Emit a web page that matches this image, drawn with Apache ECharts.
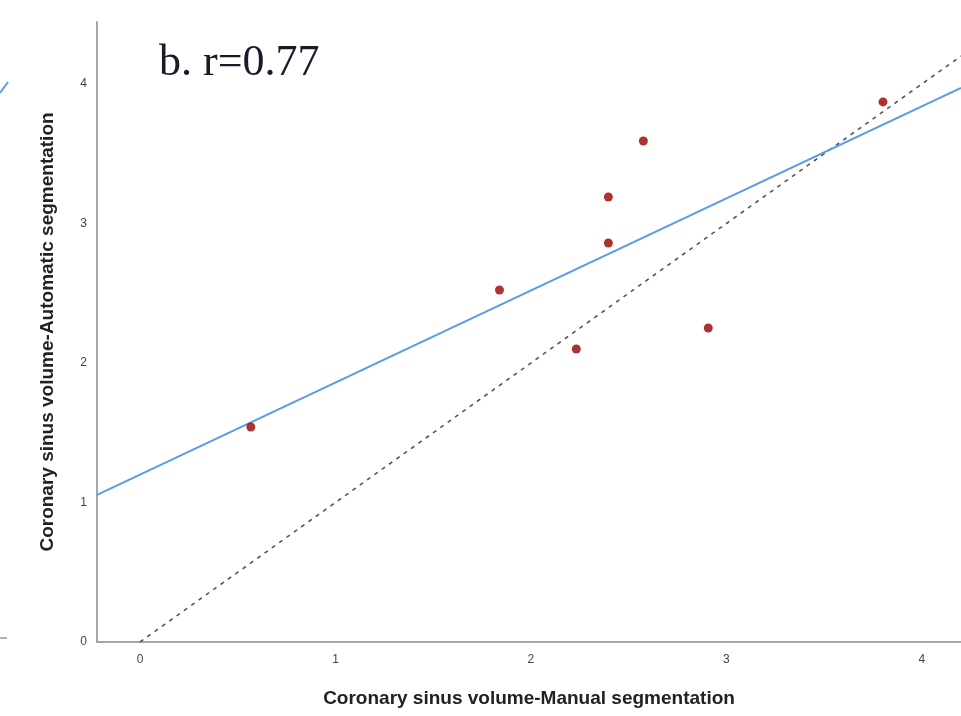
<!DOCTYPE html>
<html>
<head>
<meta charset="utf-8">
<script src="https://cdn.jsdelivr.net/npm/echarts@6/dist/echarts.min.js"></script>
<style>html,body{margin:0;padding:0;background:#fff;}#c{width:961px;height:716px;}</style>
</head>
<body>
<div id="c"></div>
<script>
const titleText = 'b. r=0.77';
const xAxisName = 'Coronary sinus volume-Manual segmentation';
const yAxisName = 'Coronary sinus volume-Automatic segmentation';
const manualVals = [0.567, 1.839, 2.232, 2.396, 2.396, 2.575, 2.907, 3.801];
const autoVals   = [1.541, 2.523, 2.100, 3.190, 2.860, 3.591, 2.251, 3.871];
const fitLineX = [-0.22, 4.2];
const fitLineY = [1.055, 3.972];
const identityX = [0, 4.2];
const identityY = [0, 4.2];

const points = manualVals.map((v, i) => [v, autoVals[i]]);
const fitPts = fitLineX.map((v, i) => [v, fitLineY[i]]);
const idPts = identityX.map((v, i) => [v, identityY[i]]);

const intOnly = v => (Math.abs(v - Math.round(v)) < 1e-6 ? String(Math.round(v)) : '');

const chart = echarts.init(document.getElementById('c'));
chart.setOption({
  animation: false,
  backgroundColor: '#fff',
  title: {
    text: titleText, left: 154, top: 36,
    textStyle: { fontFamily: 'Liberation Serif', fontSize: 44, fontWeight: 'normal', color: '#1a1a2a' }
  },
  grid: { left: 97, right: 0, top: 22, bottom: 74 },
  xAxis: {
    type: 'value', min: -0.22, max: 4.2, interval: 0.02,
    name: xAxisName, nameLocation: 'middle', nameGap: 47,
    nameTextStyle: { fontFamily: 'Liberation Sans', fontSize: 19, fontWeight: 'bold', color: '#222' },
    axisLine: { onZero: false, lineStyle: { color: '#a6a6a6', width: 2 } },
    axisTick: { show: false },
    splitLine: { show: false },
    axisLabel: { fontFamily: 'Liberation Sans', fontSize: 12, color: '#444', margin: 12,
      interval: 0, hideOverlap: false, showMinLabel: false, showMaxLabel: false,
      formatter: intOnly }
  },
  yAxis: {
    type: 'value', min: 0, max: 4.444, interval: 1,
    name: yAxisName, nameLocation: 'middle', nameGap: 40,
    nameTextStyle: { fontFamily: 'Liberation Sans', fontSize: 19, fontWeight: 'bold', color: '#222' },
    axisLine: { onZero: false, lineStyle: { color: '#a6a6a6', width: 2 } },
    axisTick: { show: false },
    splitLine: { show: false },
    axisLabel: { fontFamily: 'Liberation Sans', fontSize: 12, color: '#444', margin: 10,
      showMaxLabel: false, formatter: intOnly }
  },
  series: [
    {
      type: 'line', data: idPts, symbol: 'none', z: 2,
      lineStyle: { color: '#555', width: 1.6, type: [4, 5] }
    },
    {
      type: 'line', data: fitPts, symbol: 'none', z: 3,
      lineStyle: { color: '#5a9be6', width: 2 }
    },
    {
      type: 'scatter', data: points, symbol: 'circle', symbolSize: 9, z: 4,
      itemStyle: { color: '#990000' }
    }
  ],
  graphic: [
    { type: 'line', shape: { x1: 0, y1: 93, x2: 8, y2: 82 }, style: { stroke: '#5a9be6', lineWidth: 2 } },
    { type: 'line', shape: { x1: 0, y1: 638, x2: 7, y2: 638 }, style: { stroke: '#999', lineWidth: 1.5 } }
  ]
});
</script>
</body>
</html>
